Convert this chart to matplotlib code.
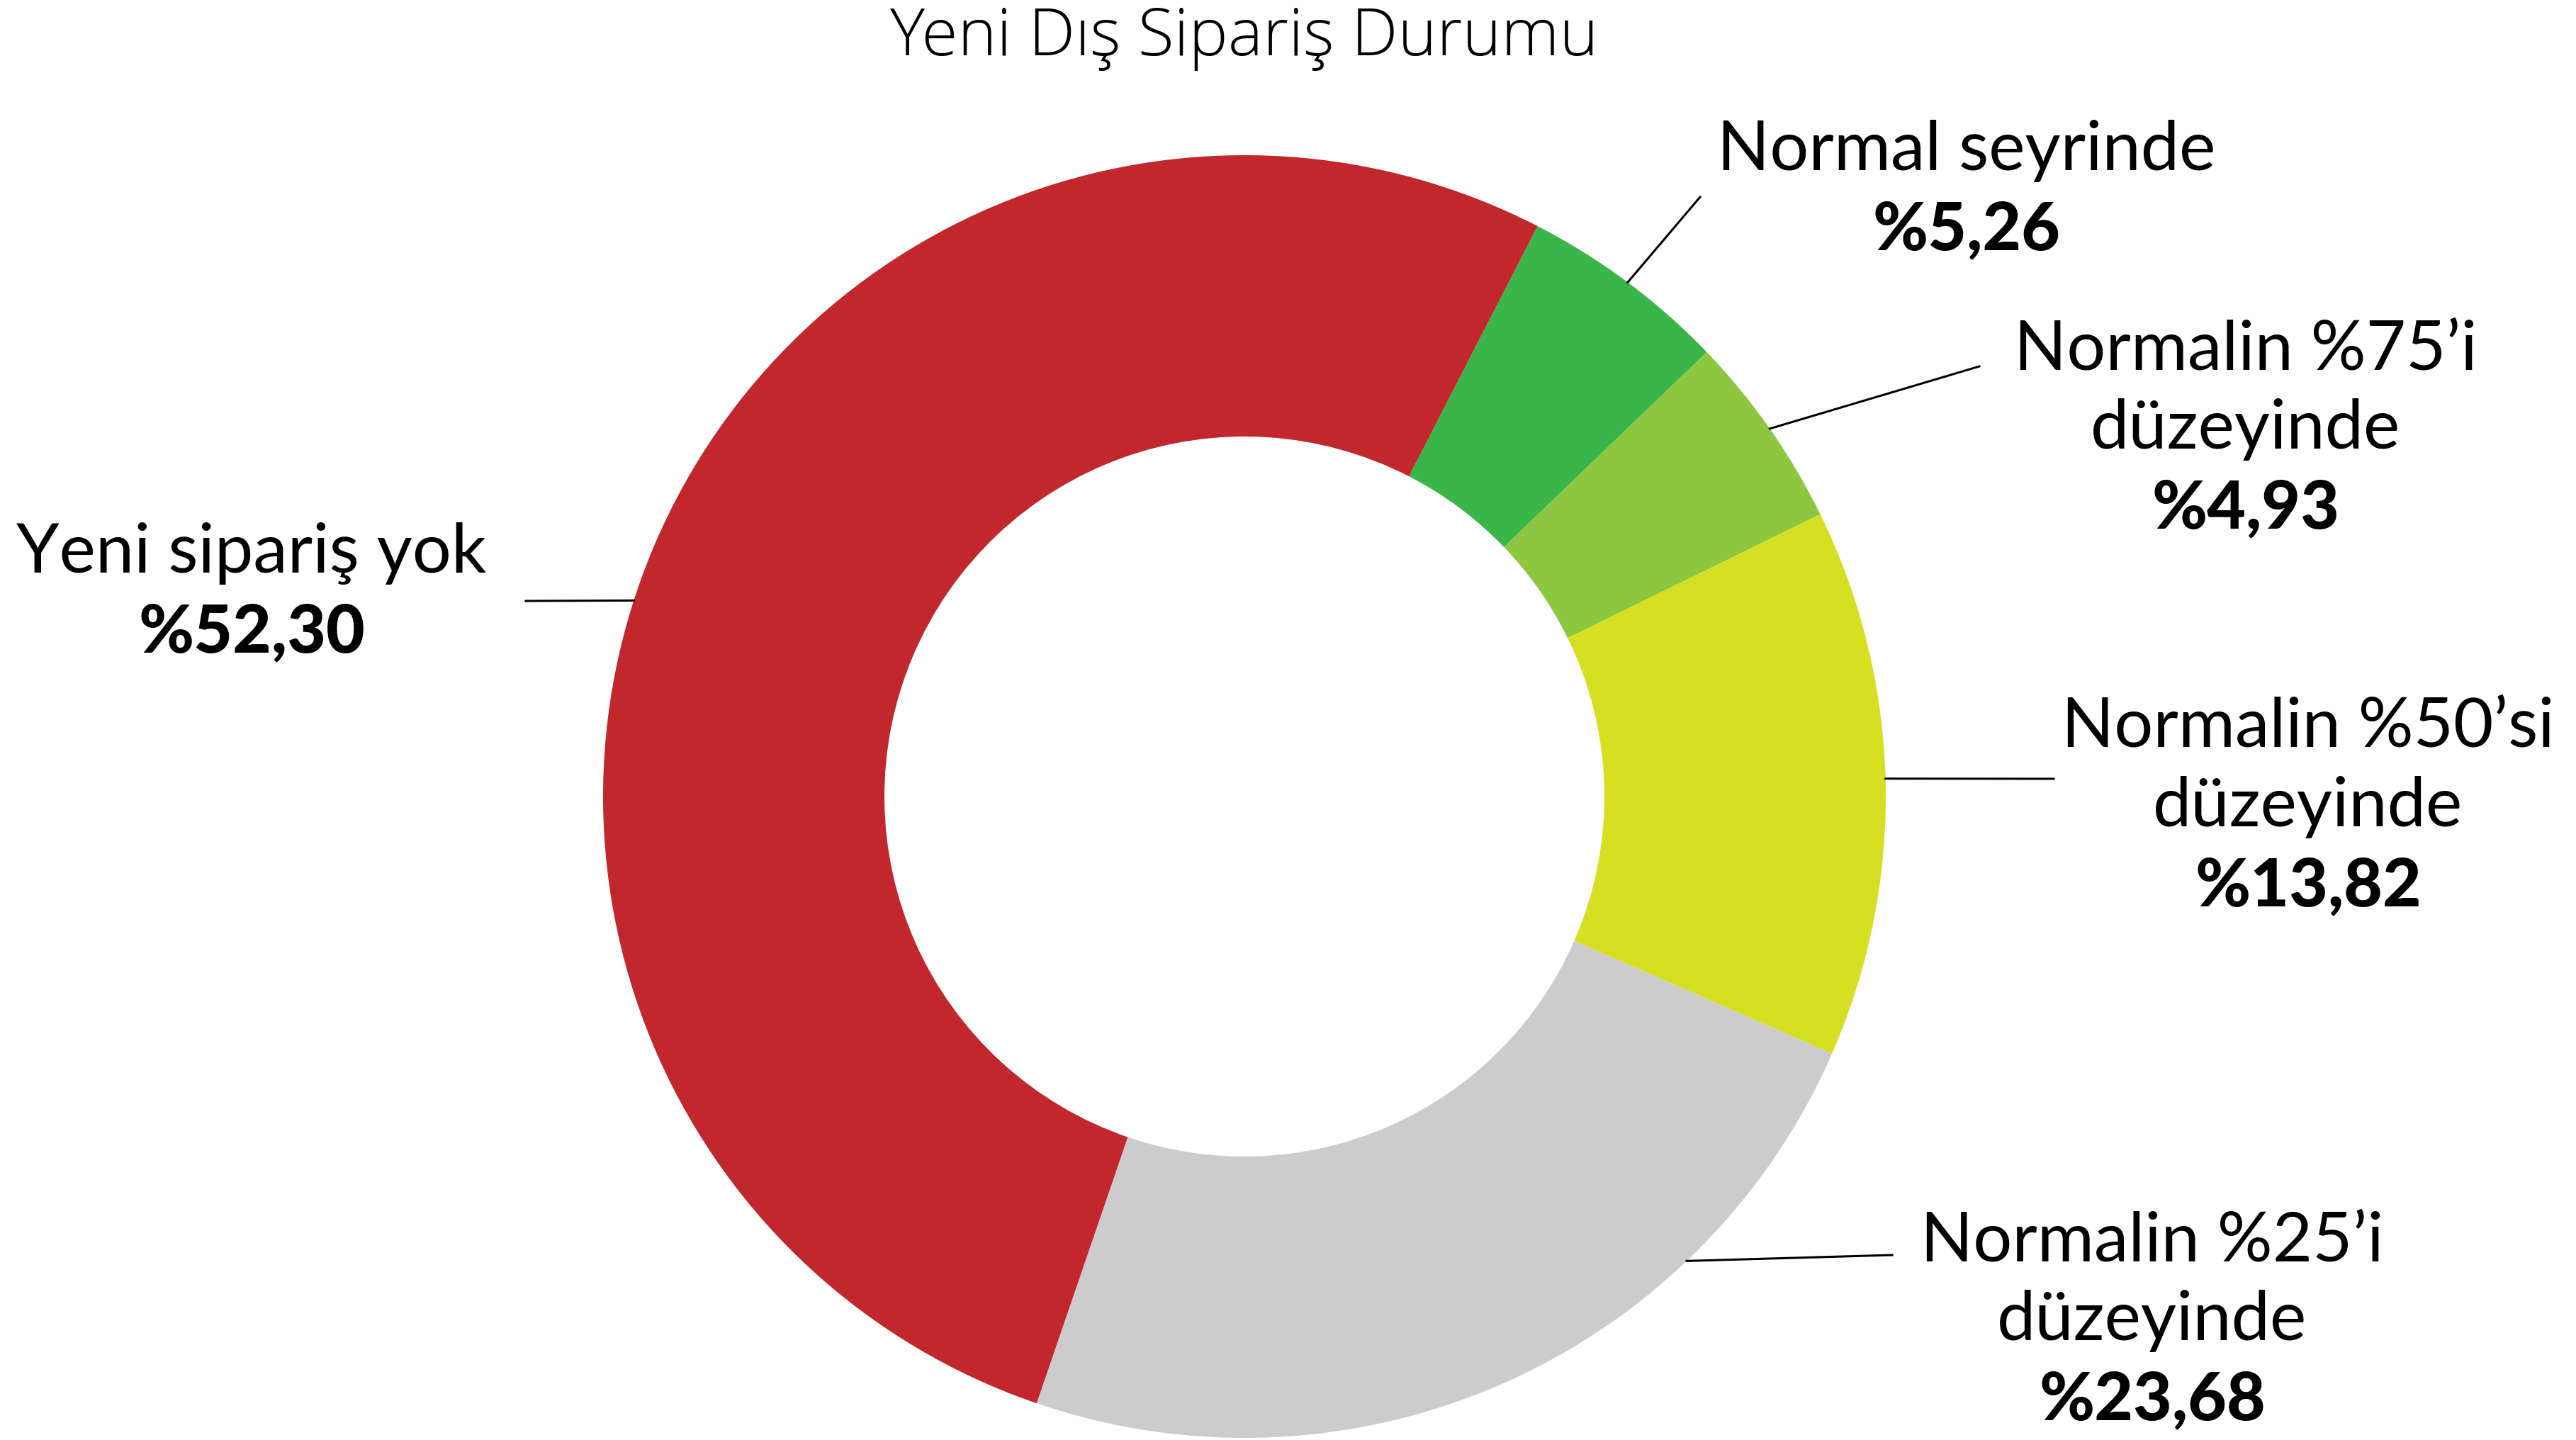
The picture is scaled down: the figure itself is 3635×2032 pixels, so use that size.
import numpy as np
import matplotlib.pyplot as plt

W, H = 3635, 2032

title = "Yeni Dış Sipariş Durumu"
categories = ["Normal seyrinde", "Normalin %75'i düzeyinde", "Normalin %50'si düzeyinde",
              "Normalin %25'i düzeyinde", "Yeni sipariş yok"]
shares = [5.26, 4.93, 13.82, 23.68, 52.30]
value_labels = ["%5,26", "%4,93", "%13,82", "%23,68", "%52,30"]
label_lines = [["Normal seyrinde"],
               ["Normalin %75\u2019i", "düzeyinde"],
               ["Normalin %50\u2019si", "düzeyinde"],
               ["Normalin %25\u2019i", "düzeyinde"],
               ["Yeni sipariş yok"]]
colors = ["#39b54a", "#8dc63f", "#d7df23", "#cccccc", "#c1272d"]

# layout (pixels, y from top)
cx, cy, r_out, ring = 1756, 1124, 905, 397
label_pos = [(2775, 213), (3169, 494), (3257, 1027), (3037, 1752), (355, 781)]
line_gap = 112
anchor_angle = [53.3, 35.0, 1.6, -46.4, 162.2]
line_end = [(2399, 278), (2793, 517), (2898, 1099), (2670, 1771), (742, 848)]


def Y(y):
    return H - y


fig = plt.figure(figsize=(W / 100, H / 100), dpi=100)
ax = fig.add_axes([0, 0, 1, 1])
ax.pie(shares, colors=colors, startangle=62.8, counterclock=False,
       center=(cx, Y(cy)), radius=r_out,
       wedgeprops=dict(width=ring, linewidth=0))
ax.set_xlim(0, W)
ax.set_ylim(0, H)
ax.set_aspect("equal")
ax.axis("off")

ax.text(1756, Y(54), title, ha="center", va="center", fontsize=67,
        family="Open Sans", weight="light")

for i in range(len(categories)):
    x, y = label_pos[i]
    for j, line in enumerate(label_lines[i]):
        ax.text(x, Y(y + j * line_gap), line, ha="center", va="center",
                fontsize=70, family="Lato")
    ax.text(x, Y(y + len(label_lines[i]) * line_gap), value_labels[i],
            ha="center", va="center", fontsize=68, family="Lato", weight="black")
    a = np.radians(anchor_angle[i])
    x0, y0 = cx + r_out * np.cos(a), cy - r_out * np.sin(a)
    ax.plot([x0, line_end[i][0]], [Y(y0), Y(line_end[i][1])], color="black", lw=2.2)

fig.savefig("out.png", dpi=100)
